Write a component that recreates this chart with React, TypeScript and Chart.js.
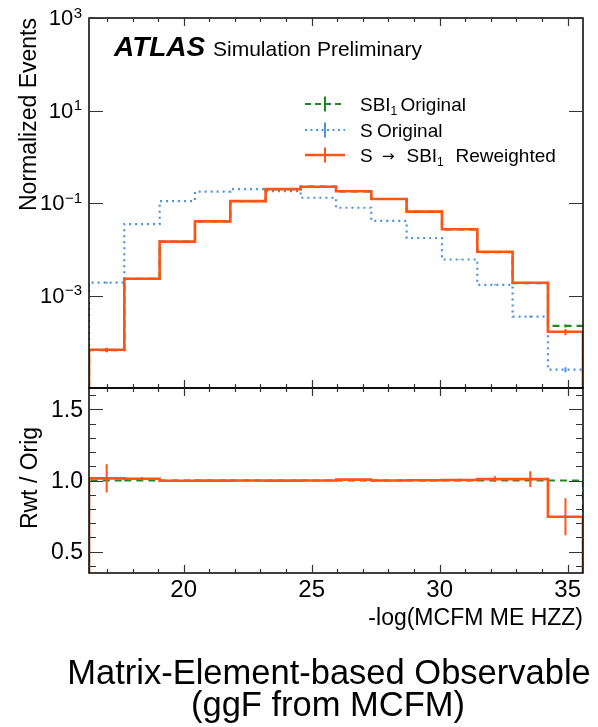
import React, { useEffect, useRef } from 'react';
import { Chart, registerables } from 'chart.js';

Chart.register(...registerables);

// ---------------- data ----------------
const binEdges = [16.3, 17.68, 19.06, 20.44, 21.82, 23.2, 24.57, 25.95, 27.33, 28.71, 30.09, 31.47, 32.85, 34.23, 35.6];

const sbiOriginal = [6.6e-5, 2.3e-3, 0.0146, 0.04, 0.11, 0.2, 0.225, 0.179, 0.122, 0.065, 0.027, 0.0087, 0.00186, 2.2e-4];
const sbiOriginalErr = [7e-6, 4e-5, 1.5e-4, 3e-4, 5e-4, 7e-4, 7e-4, 6e-4, 5e-4, 4e-4, 2e-4, 8e-5, 3e-5, 1.6e-5];

const sOriginal = [1.9e-3, 0.035, 0.11, 0.176, 0.2, 0.18, 0.13, 0.079, 0.041, 0.0175, 0.006, 0.0017, 3.5e-4, 2.5e-5];
const sOriginalErr = [8e-5, 4e-4, 8e-4, 9e-4, 9e-4, 8e-4, 7e-4, 5e-4, 3e-4, 2e-4, 8e-5, 4e-5, 1.5e-5, 3e-6];

const sReweighted = [6.7e-5, 2.3e-3, 0.0146, 0.04, 0.11, 0.2, 0.225, 0.18, 0.122, 0.065, 0.027, 0.0088, 0.00188, 1.64e-4];
const sReweightedErr = [7e-6, 5e-5, 1.6e-4, 3e-4, 5e-4, 7e-4, 7e-4, 6e-4, 5e-4, 4e-4, 2.5e-4, 1.6e-4, 1e-4, 2.5e-5];

const ratioRwt = [1.015, 1.012, 0.998, 0.999, 1.0, 0.999, 1.0, 1.006, 1.0, 1.002, 1.004, 1.01, 1.01, 0.745];
const ratioRwtErr = [0.1, 0.012, 0.005, 0.003, 0.002, 0.002, 0.002, 0.003, 0.004, 0.006, 0.01, 0.02, 0.055, 0.13];
const ratioSbi = [1, 1, 1, 1, 1, 1, 1, 1, 1, 1, 1, 1, 1, 1];

const xMajorTicks = [20, 25, 30, 35];
const topYTicks = [1e3, 1e1, 1e-1, 1e-3];
const topYTickExp = ['3', '1', '\u22121', '\u22123'];
const ratioMajorTicks = [0.5, 1.0, 1.5];
const ratioTickLabels = ['0.5', '1.0', '1.5'];

const X_MIN = 16.3;
const X_MAX = 35.6;
const TOP_MIN = 1e-5;
const TOP_MAX = 1e3;
const R_MIN = 0.35;
const R_MAX = 1.65;

// ---------------- style ----------------
const ORANGE = '#ff5418';
const BLUE = '#4b93dd';
const GREEN = '#1f8a1f';
const FONT = "'Liberation Sans', Arial, Helvetica, sans-serif";
const W = 598;
const H = 727;

function stepPoints(values: number[], base: number) {
  const n = values.length;
  const pts: { x: number; y: number }[] = [{ x: binEdges[0], y: base }];
  for (let i = 0; i < n; i++) pts.push({ x: binEdges[i], y: values[i] });
  pts.push({ x: binEdges[n], y: values[n - 1] });
  pts.push({ x: binEdges[n], y: base });
  return pts;
}

function errPoints(values: number[], errs: number[]) {
  const pts: { x: number; y: number | null }[] = [];
  for (let i = 0; i < values.length; i++) {
    const c = (binEdges[i] + binEdges[i + 1]) / 2;
    pts.push({ x: c, y: values[i] - errs[i] });
    pts.push({ x: c, y: values[i] + errs[i] });
    pts.push({ x: c, y: null });
  }
  return pts;
}

function drawXTicks(ctx: CanvasRenderingContext2D, chart: any) {
  const { top, bottom } = chart.chartArea;
  const x = chart.scales.x;
  ctx.save();
  ctx.strokeStyle = '#333';
  ctx.lineWidth = 1.2;
  for (let v = 17; v <= 35; v++) {
    const major = xMajorTicks.indexOf(v) >= 0;
    const len = major ? 8 : 4;
    const px = Math.round(x.getPixelForValue(v)) + 0.5;
    ctx.beginPath();
    ctx.moveTo(px, bottom);
    ctx.lineTo(px, bottom - len);
    ctx.moveTo(px, top);
    ctx.lineTo(px, top + len);
    ctx.stroke();
  }
  ctx.restore();
}

function drawFrame(ctx: CanvasRenderingContext2D, chart: any) {
  const { left, right, top, bottom } = chart.chartArea;
  ctx.save();
  ctx.strokeStyle = '#000';
  ctx.lineWidth = 1.5;
  ctx.strokeRect(left, top, right - left, bottom - top);
  ctx.restore();
}

function drawYTick(ctx: CanvasRenderingContext2D, chart: any, py: number, len: number) {
  const { left, right } = chart.chartArea;
  ctx.beginPath();
  ctx.moveTo(left, py);
  ctx.lineTo(left + len, py);
  ctx.moveTo(right, py);
  ctx.lineTo(right - len, py);
  ctx.stroke();
}

function drawParts(ctx: CanvasRenderingContext2D, baseline: number, size: number, parts: any[]) {
  let cx = 0;
  for (const p of parts) {
    if (p.x !== undefined) cx = p.x;
    const fs = p.sub ? Math.round(size * 0.62) : p.size || size;
    ctx.font = `${fs}px ${p.family || FONT}`;
    const by = p.sub ? baseline + 4 : baseline + (p.dy || 0);
    ctx.fillText(p.t, cx, by);
    cx += ctx.measureText(p.t).width;
  }
}

const topDecor = {
  id: 'topDecor',
  afterDraw(chart: any) {
    const ctx: CanvasRenderingContext2D = chart.ctx;
    const y = chart.scales.y;
    drawFrame(ctx, chart);
    drawXTicks(ctx, chart);

    ctx.save();
    ctx.strokeStyle = '#333';
    ctx.lineWidth = 1.2;
    topYTicks.forEach((v) => drawYTick(ctx, chart, Math.round(y.getPixelForValue(v)) + 0.5, 14));
    ctx.restore();

    // y tick labels 10^n
    ctx.save();
    ctx.fillStyle = '#000';
    topYTicks.forEach((v, i) => {
      const py = y.getPixelForValue(v);
      ctx.font = `15px ${FONT}`;
      ctx.textAlign = 'right';
      ctx.textBaseline = 'alphabetic';
      const ew = ctx.measureText(topYTickExp[i]).width;
      ctx.fillText(topYTickExp[i], 82, py - 0.5);
      ctx.font = `22px ${FONT}`;
      ctx.textBaseline = 'middle';
      ctx.fillText('10', 82 - ew - 0.5, py + 1);
    });
    ctx.restore();

    // y title
    ctx.save();
    ctx.fillStyle = '#000';
    ctx.font = `23px ${FONT}`;
    ctx.translate(36, 18);
    ctx.rotate(-Math.PI / 2);
    ctx.textAlign = 'right';
    ctx.textBaseline = 'alphabetic';
    ctx.fillText('Normalized Events', 0, 0);
    ctx.restore();

    // ATLAS label
    ctx.save();
    ctx.fillStyle = '#000';
    ctx.textAlign = 'left';
    ctx.textBaseline = 'alphabetic';
    ctx.font = `italic bold 28px ${FONT}`;
    ctx.fillText('ATLAS', 114, 56);
    ctx.font = `21px ${FONT}`;
    ctx.fillText('Simulation Preliminary', 213, 56);
    ctx.restore();

    // legend
    ctx.save();
    ctx.fillStyle = '#000';
    ctx.textAlign = 'left';
    ctx.textBaseline = 'alphabetic';
    const rows = [
      { cy: 104, color: GREEN, dash: [6, 4], lw: 2, parts: [{ t: 'SBI', x: 360 }, { t: '1', sub: true }, { t: 'Original', x: 400.5 }] },
      { cy: 130, color: BLUE, dash: [2, 3.5], lw: 2, parts: [{ t: 'S', x: 360 }, { t: 'Original', x: 377 }] },
      { cy: 155, color: ORANGE, dash: [], lw: 2.5, parts: [{ t: 'S', x: 360 }, { t: '\u2192', x: 382, size: 15, dy: -1, family: "'DejaVu Sans', sans-serif" }, { t: 'SBI', x: 406.5 }, { t: '1', sub: true }, { t: 'Reweighted', x: 455.5 }] },
    ];
    rows.forEach((r) => {
      ctx.save();
      ctx.strokeStyle = r.color;
      ctx.lineWidth = r.lw;
      ctx.setLineDash(r.dash);
      ctx.beginPath();
      ctx.moveTo(305, r.cy);
      ctx.lineTo(345, r.cy);
      ctx.stroke();
      ctx.setLineDash([]);
      ctx.lineWidth = 2;
      ctx.beginPath();
      ctx.moveTo(325, r.cy - 7.5);
      ctx.lineTo(325, r.cy + 7.5);
      ctx.stroke();
      ctx.restore();
      drawParts(ctx, r.cy + 6.5, 19, r.parts);
    });
    ctx.restore();
  },
};

const bottomDecor = {
  id: 'bottomDecor',
  afterDraw(chart: any) {
    const ctx: CanvasRenderingContext2D = chart.ctx;
    const x = chart.scales.x;
    const y = chart.scales.y;
    const { bottom } = chart.chartArea;
    drawFrame(ctx, chart);
    drawXTicks(ctx, chart);

    ctx.save();
    ctx.strokeStyle = '#333';
    ctx.lineWidth = 1.2;
    for (let k = 4; k <= 16; k++) {
      const v = k / 10;
      if (v < R_MIN || v > R_MAX) continue;
      const major = k % 5 === 0;
      drawYTick(ctx, chart, Math.round(y.getPixelForValue(v)) + 0.5, major ? 14 : 7);
    }
    ctx.restore();

    ctx.save();
    ctx.fillStyle = '#000';
    ctx.font = `23px ${FONT}`;
    ctx.textAlign = 'right';
    ctx.textBaseline = 'middle';
    ratioMajorTicks.forEach((v, i) => {
      ctx.fillText(ratioTickLabels[i], 83, y.getPixelForValue(v) + 1);
    });

    ctx.font = `24px ${FONT}`;
    ctx.textAlign = 'center';
    ctx.textBaseline = 'alphabetic';
    xMajorTicks.forEach((v) => {
      ctx.fillText(String(v), x.getPixelForValue(v), bottom + 24);
    });

    ctx.font = `23px ${FONT}`;
    ctx.textAlign = 'right';
    ctx.fillText('-log(MCFM ME HZZ)', 583, 625);

    ctx.font = `34.5px ${FONT}`;
    ctx.textAlign = 'center';
    ctx.fillText('Matrix-Element-based Observable', 329, 684);
    ctx.fillText('(ggF from MCFM)', 328, 716);
    ctx.restore();

    ctx.save();
    ctx.fillStyle = '#000';
    ctx.font = `23px ${FONT}`;
    ctx.translate(36.5, 478);
    ctx.rotate(-Math.PI / 2);
    ctx.textAlign = 'center';
    ctx.textBaseline = 'alphabetic';
    ctx.fillText('Rwt / Orig', 0, 0);
    ctx.restore();
  },
};

function baseOptions(padding: any, yScale: any) {
  return {
    animation: false,
    responsive: false,
    events: [],
    layout: { padding },
    plugins: { legend: { display: false }, tooltip: { enabled: false }, title: { display: false } },
    elements: { point: { radius: 0 }, line: { tension: 0 } },
    scales: {
      x: { type: 'linear', min: X_MIN, max: X_MAX, display: false },
      y: yScale,
    },
  };
}

export default function App() {
  const topRef = useRef<HTMLCanvasElement | null>(null);
  const botRef = useRef<HTMLCanvasElement | null>(null);

  useEffect(() => {
    const top = new Chart(topRef.current as HTMLCanvasElement, {
      type: 'line',
      data: {
        datasets: [
          { label: 'S \u2192 SBI1 Reweighted', data: stepPoints(sReweighted, TOP_MIN), borderColor: ORANGE, borderWidth: 2.6, stepped: 'before', pointRadius: 0, fill: false },
          { label: 'rwt err', data: errPoints(sReweighted, sReweightedErr), borderColor: ORANGE, borderWidth: 2, pointRadius: 0, fill: false },
          { label: 'SBI1 Original', data: stepPoints(sbiOriginal, TOP_MIN), borderColor: GREEN, borderWidth: 2.2, borderDash: [7, 5], stepped: 'before', pointRadius: 0, fill: false },
          { label: 'sbi err', data: errPoints(sbiOriginal, sbiOriginalErr), borderColor: GREEN, borderWidth: 2, pointRadius: 0, fill: false },
          { label: 'S Original', data: stepPoints(sOriginal, TOP_MIN), borderColor: BLUE, borderWidth: 2.2, borderDash: [2, 4], stepped: 'before', pointRadius: 0, fill: false },
          { label: 's err', data: errPoints(sOriginal, sOriginalErr), borderColor: BLUE, borderWidth: 2, pointRadius: 0, fill: false },
        ],
      } as any,
      options: baseOptions({ left: 89, right: 15, top: 18, bottom: H - 388 }, { type: 'logarithmic', min: TOP_MIN, max: TOP_MAX, display: false }) as any,
      plugins: [topDecor],
    });

    const bot = new Chart(botRef.current as HTMLCanvasElement, {
      type: 'line',
      data: {
        datasets: [
          { label: 'ratio rwt', data: stepPoints(ratioRwt, 0), borderColor: ORANGE, borderWidth: 2.6, stepped: 'before', pointRadius: 0, fill: false },
          { label: 'ratio err', data: errPoints(ratioRwt, ratioRwtErr), borderColor: ORANGE, borderWidth: 2, pointRadius: 0, fill: false },
          { label: 'ratio sbi', data: stepPoints(ratioSbi, 0), borderColor: GREEN, borderWidth: 2.2, borderDash: [7, 5], stepped: 'before', pointRadius: 0, fill: false },
        ],
      } as any,
      options: baseOptions({ left: 89, right: 15, top: 388, bottom: H - 573 }, { type: 'linear', min: R_MIN, max: R_MAX, display: false }) as any,
      plugins: [bottomDecor],
    });

    return () => {
      top.destroy();
      bot.destroy();
    };
  }, []);

  const cstyle: React.CSSProperties = { position: 'absolute', left: 0, top: 0, width: W, height: H };
  return (
    <div style={{ position: 'fixed', left: 0, top: 0, width: W, height: H, background: '#fff' }}>
      <canvas ref={topRef} width={W} height={H} style={cstyle} />
      <canvas ref={botRef} width={W} height={H} style={cstyle} />
    </div>
  );
}
